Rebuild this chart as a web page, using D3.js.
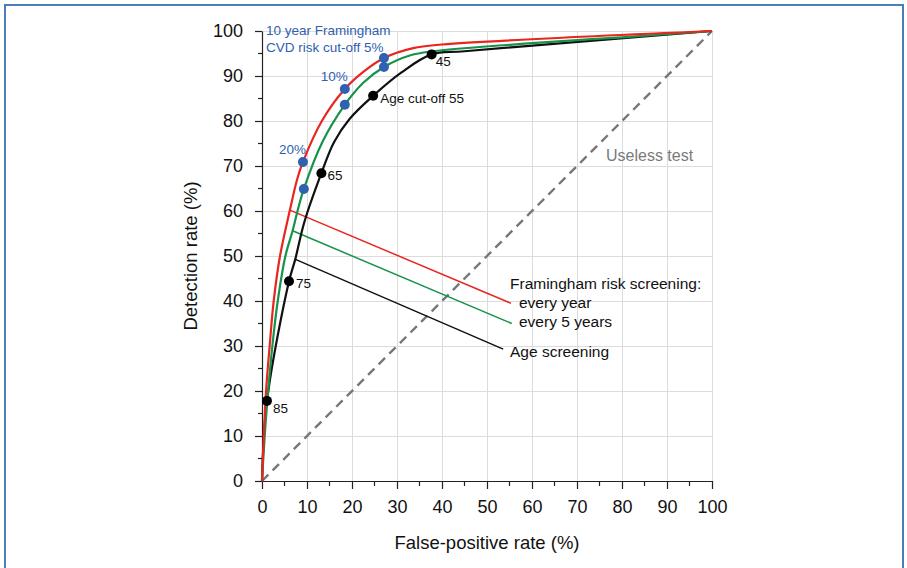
<!doctype html>
<html>

<head>
    <style>
        body {
            margin: 0;
            background: #fff;
        }

        text {
            font-family: "Liberation Sans", Arial, sans-serif;
        }

        .grid line {
            stroke: #dcdcdc;
            stroke-width: 1px;
            shape-rendering: crispEdges;
        }

        .axis path,
        .axis line {
            stroke: #222;
            stroke-width: 1.2px;
            fill: none;
        }

        .axis text {
            font-size: 18px;
            fill: #111;
            font-family: "Liberation Sans", Arial, sans-serif;
        }

        .curve {
            fill: none;
            stroke-width: 2.2px;
        }

        .leader {
            stroke-width: 1.5px;
        }
    </style>
    <script src="https://d3js.org/d3.v7.min.js"></script>
</head>

<body>
    <script>
        // ROC curves, [false-positive %, detection %]
        const everyYear = [[0, 0], [0.4, 10], [0.9, 20], [1.7, 30], [2.6, 40], [4.0, 50], [6.2, 60.2], [7.8, 67],
        [9.1, 70.9], [13.3, 80], [18.4, 87.1], [22.5, 90.9], [27.1, 94.0], [33.6, 96.2], [40, 97], [100, 100]]
        const everyFiveYears = [[0, 0], [0.6, 10], [1.2, 18], [2.3, 30], [3.5, 40], [5.2, 50], [6.8, 55.6], [7.9, 60],
        [9.3, 64.9], [13.5, 75.5], [18.4, 83.6], [22.5, 88.5], [27.1, 92.0], [33, 94.6], [38, 95.5], [60, 97.3], [80, 98.6], [100, 100]]
        const ageScreening = [[0, 0], [1.1, 17.8], [6, 44.4], [7.4, 49.3], [9.4, 57.5], [13.2, 68.4], [16, 75.3],
        [19.5, 80.5], [24.7, 85.6], [31, 90.8], [37.7, 94.8], [45, 95.5], [100, 100]]

        // marked cut-offs
        const riskCutLabels = ["20%", "10%", "5%"]
        const riskYearPts = [[9.1, 70.9], [18.4, 87.1], [27.1, 94.0]]
        const riskFivePts = [[9.3, 64.9], [18.4, 83.6], [27.1, 92.0]]
        const ageCutLabels = ["85", "75", "65", "Age cut-off 55", "45"]
        const ageCutPts = [[1.1, 17.8], [6, 44.4], [13.2, 68.4], [24.7, 85.6], [37.7, 94.8]]

        // legend leader lines [start on curve, end at label]
        const legendNames = ["every year", "every 5 years", "Age screening"]
        const legendColors = ["#e8261f", "#16924a", "#111111"]
        const leaders = [[[6.2, 60.2], [55.3, 39.5]], [[6.8, 55.6], [55.5, 35.0]], [[7.3, 49.3], [53.6, 29.3]]]

        const ticks = d3.range(0, 101, 10)
        const minorTicks = d3.range(5, 100, 10)

        const svg = d3.select("body").append("svg")
            .attr("width", 907)
            .attr("height", 568)

        // frame
        svg.append("rect")
            .attr("x", 5).attr("y", 5)
            .attr("width", 898).attr("height", 620)
            .attr("fill", "none")
            .attr("stroke", "#4a7ebb")
            .attr("stroke-width", 2)

        const x = d3.scaleLinear().domain([0, 100]).range([262, 712])
        const y = d3.scaleLinear().domain([0, 100]).range([481, 31])

        // grid
        const grid = svg.append("g").attr("class", "grid")
        grid.selectAll(".v").data(ticks.slice(1)).enter().append("line")
            .attr("x1", d => x(d)).attr("x2", d => x(d))
            .attr("y1", y(0)).attr("y2", y(100))
        grid.selectAll(".h").data(ticks.slice(1)).enter().append("line")
            .attr("y1", d => y(d)).attr("y2", d => y(d))
            .attr("x1", x(0)).attr("x2", x(100))

        // axes
        const xAxis = svg.append("g").attr("class", "axis")
            .attr("transform", `translate(0,${y(0)})`)
            .call(d3.axisBottom(x).tickValues(ticks).tickSize(8).tickPadding(5).tickSizeOuter(0))
        xAxis.selectAll("text").attr("dy", "1.05em")
        xAxis.selectAll(".minor").data(minorTicks).enter().append("line")
            .attr("x1", d => x(d)).attr("x2", d => x(d))
            .attr("y1", 0).attr("y2", 5)

        const yAxis = svg.append("g").attr("class", "axis")
            .attr("transform", `translate(${x(0)},0)`)
            .call(d3.axisLeft(y).tickValues(ticks).tickSize(7).tickPadding(12).tickSizeOuter(0))
        yAxis.selectAll(".minor").data(minorTicks).enter().append("line")
            .attr("y1", d => y(d)).attr("y2", d => y(d))
            .attr("x1", 0).attr("x2", -4)

        // axis titles
        svg.append("text")
            .attr("x", (x(0) + x(100)) / 2).attr("y", 549)
            .attr("text-anchor", "middle")
            .style("font-size", "18.5px").attr("fill", "#111")
            .text("False-positive rate (%)")
        svg.append("text")
            .attr("transform", `translate(197,${(y(0) + y(100)) / 2}) rotate(-90)`)
            .attr("text-anchor", "middle")
            .style("font-size", "18.5px").attr("fill", "#111")
            .text("Detection rate (%)")

        // useless test diagonal
        svg.append("line")
            .attr("x1", x(0)).attr("y1", y(0))
            .attr("x2", x(100)).attr("y2", y(100))
            .attr("stroke", "#777").attr("stroke-width", 2.4)
            .attr("stroke-dasharray", "9,6")
        svg.append("text")
            .attr("x", 606).attr("y", 161)
            .style("font-size", "16px").attr("fill", "#7a7a7a")
            .text("Useless test")

        // leader lines
        svg.selectAll(".leader").data(leaders).enter().append("line")
            .attr("class", "leader")
            .attr("x1", d => x(d[0][0])).attr("y1", d => y(d[0][1]))
            .attr("x2", d => x(d[1][0])).attr("y2", d => y(d[1][1]))
            .attr("stroke", (d, i) => legendColors[i])

        // curves
        const line = d3.line()
            .x(d => x(d[0]))
            .y(d => y(d[1]))
            .curve(d3.curveCatmullRom.alpha(0.5))
        svg.selectAll(".curve").data([ageScreening, everyFiveYears, everyYear]).enter().append("path")
            .attr("class", "curve")
            .attr("d", line)
            .attr("stroke", (d, i) => legendColors[2 - i])

        // legend text
        svg.append("text")
            .attr("x", 510).attr("y", 289)
            .style("font-size", "15.5px").attr("fill", "#111")
            .text("Framingham risk screening:")
        const legendPos = [[519, 308], [519, 327], [510, 357]]
        svg.selectAll(".legendText").data(legendNames).enter().append("text")
            .attr("x", (d, i) => legendPos[i][0]).attr("y", (d, i) => legendPos[i][1])
            .style("font-size", "15.5px").attr("fill", "#111")
            .text(d => d)

        // risk cut-off dots
        const blue = "#3060b0"
        svg.selectAll(".riskDot").data(riskYearPts.concat(riskFivePts)).enter().append("circle")
            .attr("cx", d => x(d[0])).attr("cy", d => y(d[1]))
            .attr("r", 5).attr("fill", blue)
        svg.selectAll(".riskLabel").data(riskCutLabels.slice(0, 2)).enter().append("text")
            .attr("x", (d, i) => x(riskYearPts[i][0]) - 24)
            .attr("y", (d, i) => y(riskYearPts[i][1]) - 8)
            .style("font-size", "13.5px").attr("fill", blue)
            .text(d => d)
        svg.append("text")
            .attr("x", 266).attr("y", 35)
            .style("font-size", "13.5px").attr("fill", blue)
            .text("10 year Framingham")
        svg.append("text")
            .attr("x", 266).attr("y", 52)
            .style("font-size", "13.5px").attr("fill", blue)
            .text("CVD risk cut-off " + riskCutLabels[2])

        // age cut-off dots
        const ageOffsets = [[6, 12], [7, 7], [6, 7], [7, 7], [4, 12]]
        svg.selectAll(".ageDot").data(ageCutPts).enter().append("circle")
            .attr("cx", d => x(d[0])).attr("cy", d => y(d[1]))
            .attr("r", 5).attr("fill", "#000")
        svg.selectAll(".ageLabel").data(ageCutLabels).enter().append("text")
            .attr("x", (d, i) => x(ageCutPts[i][0]) + ageOffsets[i][0])
            .attr("y", (d, i) => y(ageCutPts[i][1]) + ageOffsets[i][1])
            .style("font-size", "13.5px").attr("fill", "#111")
            .text(d => d)
    </script>
</body>

</html>
